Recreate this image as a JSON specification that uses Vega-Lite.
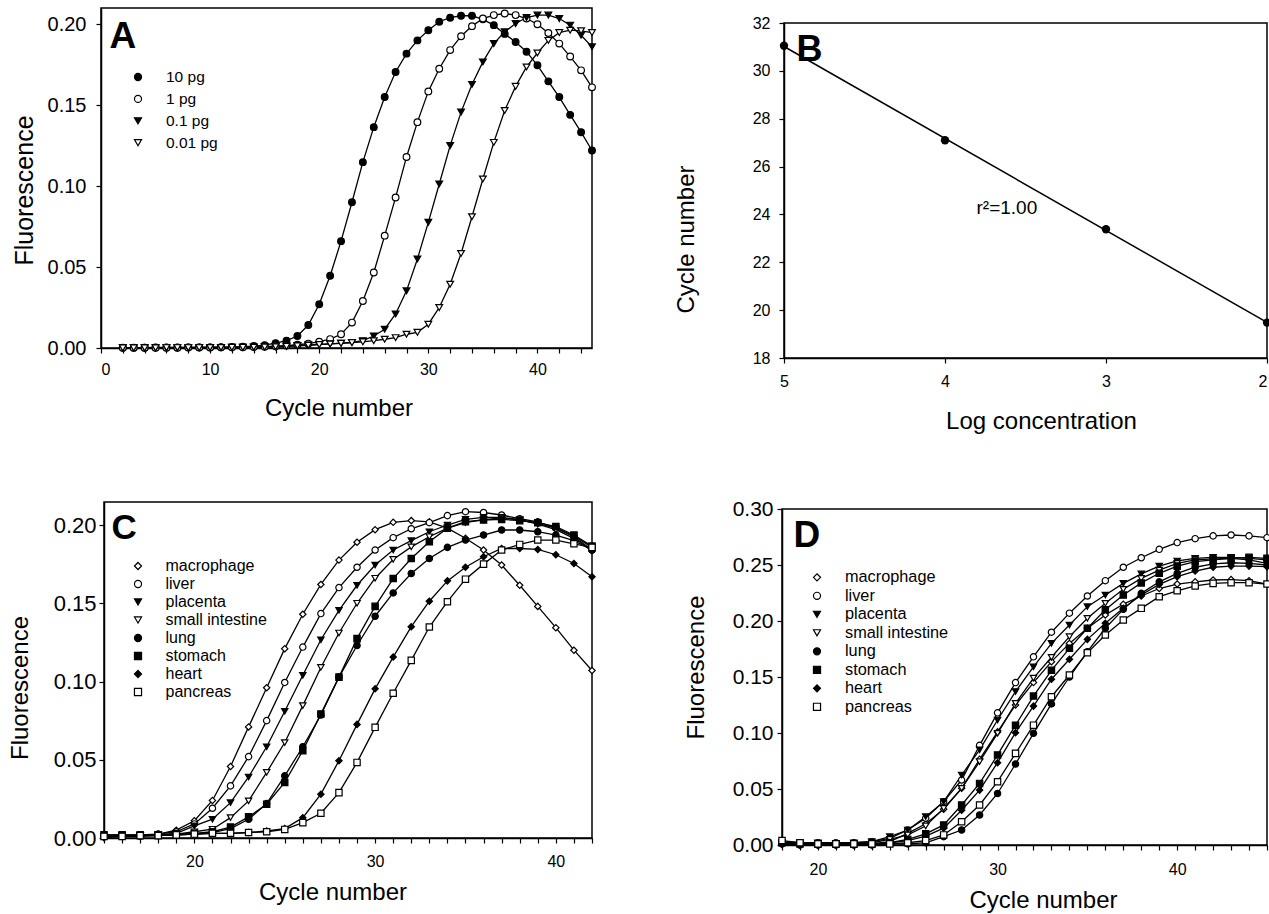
{
"$schema": "https://vega.github.io/schema/vega-lite/v6.json",
"background": "white",
"padding": {"left": 7, "top": 7, "right": 0, "bottom": 0},
"config": {
  "font": "Liberation Sans",
  "view": {"stroke": "black", "strokeWidth": 1.5},
  "axis": {"grid": false, "domainColor": "black", "domainWidth": 1.5, "tickColor": "black", "tickWidth": 1.2, "tickSize": 5, "labelColor": "black", "titleColor": "black", "titleFontWeight": "normal", "labelFont": "Liberation Sans", "titleFont": "Liberation Sans", "labelOverlap": false, "labelBound": false, "titleBaseline": "alphabetic", "titleAlign": "center"},
  "legend": {"labelFont": "Liberation Sans", "labelColor": "black", "padding": 0, "symbolStrokeWidth": 1.2, "symbolSize": 50, "symbolOpacity": 1}
},
"datasets": {
"A": [
{"c":2,"s":"10 pg","f":0.0002},{"c":3,"s":"10 pg","f":0.0002},{"c":4,"s":"10 pg","f":0.0002},{"c":5,"s":"10 pg","f":0.0003},{"c":6,"s":"10 pg","f":0.0003},{"c":7,"s":"10 pg","f":0.0003},{"c":8,"s":"10 pg","f":0.0004},{"c":9,"s":"10 pg","f":0.0004},{"c":10,"s":"10 pg","f":0.0004},{"c":11,"s":"10 pg","f":0.0005},{"c":12,"s":"10 pg","f":0.0006},{"c":13,"s":"10 pg","f":0.0008},{"c":14,"s":"10 pg","f":0.0012},{"c":15,"s":"10 pg","f":0.0018},{"c":16,"s":"10 pg","f":0.003},{"c":17,"s":"10 pg","f":0.0045},{"c":18,"s":"10 pg","f":0.0074},{"c":19,"s":"10 pg","f":0.0142},{"c":20,"s":"10 pg","f":0.027},{"c":21,"s":"10 pg","f":0.0446},{"c":22,"s":"10 pg","f":0.066},{"c":23,"s":"10 pg","f":0.09},{"c":24,"s":"10 pg","f":0.1148},{"c":25,"s":"10 pg","f":0.1364},{"c":26,"s":"10 pg","f":0.155},{"c":27,"s":"10 pg","f":0.1705},{"c":28,"s":"10 pg","f":0.1818},{"c":29,"s":"10 pg","f":0.19},{"c":30,"s":"10 pg","f":0.1963},{"c":31,"s":"10 pg","f":0.2015},{"c":32,"s":"10 pg","f":0.204},{"c":33,"s":"10 pg","f":0.2052},{"c":34,"s":"10 pg","f":0.2052},{"c":35,"s":"10 pg","f":0.203},{"c":36,"s":"10 pg","f":0.1994},{"c":37,"s":"10 pg","f":0.194},{"c":38,"s":"10 pg","f":0.189},{"c":39,"s":"10 pg","f":0.183},{"c":40,"s":"10 pg","f":0.1746},{"c":41,"s":"10 pg","f":0.1647},{"c":42,"s":"10 pg","f":0.155},{"c":43,"s":"10 pg","f":0.144},{"c":44,"s":"10 pg","f":0.1333},{"c":45,"s":"10 pg","f":0.122},
{"c":2,"s":"1 pg","f":0.0001},{"c":3,"s":"1 pg","f":0.0001},{"c":4,"s":"1 pg","f":0.0002},{"c":5,"s":"1 pg","f":0.0002},{"c":6,"s":"1 pg","f":0.0002},{"c":7,"s":"1 pg","f":0.0002},{"c":8,"s":"1 pg","f":0.0003},{"c":9,"s":"1 pg","f":0.0003},{"c":10,"s":"1 pg","f":0.0003},{"c":11,"s":"1 pg","f":0.0004},{"c":12,"s":"1 pg","f":0.0004},{"c":13,"s":"1 pg","f":0.0005},{"c":14,"s":"1 pg","f":0.0006},{"c":15,"s":"1 pg","f":0.0008},{"c":16,"s":"1 pg","f":0.0011},{"c":17,"s":"1 pg","f":0.0015},{"c":18,"s":"1 pg","f":0.002},{"c":19,"s":"1 pg","f":0.0027},{"c":20,"s":"1 pg","f":0.0039},{"c":21,"s":"1 pg","f":0.0055},{"c":22,"s":"1 pg","f":0.0085},{"c":23,"s":"1 pg","f":0.0157},{"c":24,"s":"1 pg","f":0.029},{"c":25,"s":"1 pg","f":0.0466},{"c":26,"s":"1 pg","f":0.0694},{"c":27,"s":"1 pg","f":0.093},{"c":28,"s":"1 pg","f":0.118},{"c":29,"s":"1 pg","f":0.1395},{"c":30,"s":"1 pg","f":0.1585},{"c":31,"s":"1 pg","f":0.1725},{"c":32,"s":"1 pg","f":0.184},{"c":33,"s":"1 pg","f":0.1926},{"c":34,"s":"1 pg","f":0.1988},{"c":35,"s":"1 pg","f":0.2035},{"c":36,"s":"1 pg","f":0.2056},{"c":37,"s":"1 pg","f":0.2066},{"c":38,"s":"1 pg","f":0.2056},{"c":39,"s":"1 pg","f":0.2035},{"c":40,"s":"1 pg","f":0.2},{"c":41,"s":"1 pg","f":0.1946},{"c":42,"s":"1 pg","f":0.188},{"c":43,"s":"1 pg","f":0.18},{"c":44,"s":"1 pg","f":0.1715},{"c":45,"s":"1 pg","f":0.161},
{"c":2,"s":"0.1 pg","f":0.0001},{"c":3,"s":"0.1 pg","f":0.0001},{"c":4,"s":"0.1 pg","f":0.0001},{"c":5,"s":"0.1 pg","f":0.0002},{"c":6,"s":"0.1 pg","f":0.0002},{"c":7,"s":"0.1 pg","f":0.0002},{"c":8,"s":"0.1 pg","f":0.0002},{"c":9,"s":"0.1 pg","f":0.0003},{"c":10,"s":"0.1 pg","f":0.0003},{"c":11,"s":"0.1 pg","f":0.0003},{"c":12,"s":"0.1 pg","f":0.0004},{"c":13,"s":"0.1 pg","f":0.0005},{"c":14,"s":"0.1 pg","f":0.0006},{"c":15,"s":"0.1 pg","f":0.0007},{"c":16,"s":"0.1 pg","f":0.0009},{"c":17,"s":"0.1 pg","f":0.0012},{"c":18,"s":"0.1 pg","f":0.0015},{"c":19,"s":"0.1 pg","f":0.0018},{"c":20,"s":"0.1 pg","f":0.0022},{"c":21,"s":"0.1 pg","f":0.0026},{"c":22,"s":"0.1 pg","f":0.003},{"c":23,"s":"0.1 pg","f":0.0034},{"c":24,"s":"0.1 pg","f":0.0045},{"c":25,"s":"0.1 pg","f":0.0074},{"c":26,"s":"0.1 pg","f":0.0116},{"c":27,"s":"0.1 pg","f":0.021},{"c":28,"s":"0.1 pg","f":0.0353},{"c":29,"s":"0.1 pg","f":0.055},{"c":30,"s":"0.1 pg","f":0.0776},{"c":31,"s":"0.1 pg","f":0.1013},{"c":32,"s":"0.1 pg","f":0.125},{"c":33,"s":"0.1 pg","f":0.1457},{"c":34,"s":"0.1 pg","f":0.1628},{"c":35,"s":"0.1 pg","f":0.1767},{"c":36,"s":"0.1 pg","f":0.188},{"c":37,"s":"0.1 pg","f":0.1953},{"c":38,"s":"0.1 pg","f":0.2004},{"c":39,"s":"0.1 pg","f":0.2041},{"c":40,"s":"0.1 pg","f":0.2056},{"c":41,"s":"0.1 pg","f":0.2056},{"c":42,"s":"0.1 pg","f":0.2035},{"c":43,"s":"0.1 pg","f":0.1994},{"c":44,"s":"0.1 pg","f":0.1932},{"c":45,"s":"0.1 pg","f":0.186},
{"c":2,"s":"0.01 pg","f":0.0001},{"c":3,"s":"0.01 pg","f":0.0001},{"c":4,"s":"0.01 pg","f":0.0001},{"c":5,"s":"0.01 pg","f":0.0001},{"c":6,"s":"0.01 pg","f":0.0002},{"c":7,"s":"0.01 pg","f":0.0002},{"c":8,"s":"0.01 pg","f":0.0002},{"c":9,"s":"0.01 pg","f":0.0002},{"c":10,"s":"0.01 pg","f":0.0003},{"c":11,"s":"0.01 pg","f":0.0003},{"c":12,"s":"0.01 pg","f":0.0004},{"c":13,"s":"0.01 pg","f":0.0004},{"c":14,"s":"0.01 pg","f":0.0005},{"c":15,"s":"0.01 pg","f":0.0006},{"c":16,"s":"0.01 pg","f":0.0008},{"c":17,"s":"0.01 pg","f":0.001},{"c":18,"s":"0.01 pg","f":0.0013},{"c":19,"s":"0.01 pg","f":0.0017},{"c":20,"s":"0.01 pg","f":0.0021},{"c":21,"s":"0.01 pg","f":0.0025},{"c":22,"s":"0.01 pg","f":0.0029},{"c":23,"s":"0.01 pg","f":0.0033},{"c":24,"s":"0.01 pg","f":0.0038},{"c":25,"s":"0.01 pg","f":0.0045},{"c":26,"s":"0.01 pg","f":0.0054},{"c":27,"s":"0.01 pg","f":0.0064},{"c":28,"s":"0.01 pg","f":0.0085},{"c":29,"s":"0.01 pg","f":0.0097},{"c":30,"s":"0.01 pg","f":0.0147},{"c":31,"s":"0.01 pg","f":0.025},{"c":32,"s":"0.01 pg","f":0.0394},{"c":33,"s":"0.01 pg","f":0.0584},{"c":34,"s":"0.01 pg","f":0.0811},{"c":35,"s":"0.01 pg","f":0.1044},{"c":36,"s":"0.01 pg","f":0.127},{"c":37,"s":"0.01 pg","f":0.1467},{"c":38,"s":"0.01 pg","f":0.1616},{"c":39,"s":"0.01 pg","f":0.1736},{"c":40,"s":"0.01 pg","f":0.1822},{"c":41,"s":"0.01 pg","f":0.19},{"c":42,"s":"0.01 pg","f":0.1948},{"c":43,"s":"0.01 pg","f":0.1963},{"c":44,"s":"0.01 pg","f":0.1959},{"c":45,"s":"0.01 pg","f":0.1948}
],
"B": [
{"logc":5,"cyc":31.05},{"logc":4,"cyc":27.1},{"logc":3,"cyc":23.38},{"logc":2,"cyc":19.48}
],
"C": [
{"c":15,"s":"macrophage","f":0.0002},{"c":16,"s":"macrophage","f":0.001},{"c":17,"s":"macrophage","f":0.0013},{"c":18,"s":"macrophage","f":0.0024},{"c":19,"s":"macrophage","f":0.005},{"c":20,"s":"macrophage","f":0.011},{"c":21,"s":"macrophage","f":0.024},{"c":22,"s":"macrophage","f":0.0457},{"c":23,"s":"macrophage","f":0.071},{"c":24,"s":"macrophage","f":0.096},{"c":25,"s":"macrophage","f":0.121},{"c":26,"s":"macrophage","f":0.143},{"c":27,"s":"macrophage","f":0.162},{"c":28,"s":"macrophage","f":0.1776},{"c":29,"s":"macrophage","f":0.189},{"c":30,"s":"macrophage","f":0.197},{"c":31,"s":"macrophage","f":0.2017},{"c":32,"s":"macrophage","f":0.2028},{"c":33,"s":"macrophage","f":0.202},{"c":34,"s":"macrophage","f":0.198},{"c":35,"s":"macrophage","f":0.1915},{"c":36,"s":"macrophage","f":0.184},{"c":37,"s":"macrophage","f":0.1744},{"c":38,"s":"macrophage","f":0.1615},{"c":39,"s":"macrophage","f":0.148},{"c":40,"s":"macrophage","f":0.1344},{"c":41,"s":"macrophage","f":0.12},{"c":42,"s":"macrophage","f":0.107},
{"c":15,"s":"liver","f":0.002},{"c":16,"s":"liver","f":0.002},{"c":17,"s":"liver","f":0.002},{"c":18,"s":"liver","f":0.0025},{"c":19,"s":"liver","f":0.004},{"c":20,"s":"liver","f":0.009},{"c":21,"s":"liver","f":0.019},{"c":22,"s":"liver","f":0.0333},{"c":23,"s":"liver","f":0.052},{"c":24,"s":"liver","f":0.075},{"c":25,"s":"liver","f":0.0994},{"c":26,"s":"liver","f":0.122},{"c":27,"s":"liver","f":0.1434},{"c":28,"s":"liver","f":0.16},{"c":29,"s":"liver","f":0.173},{"c":30,"s":"liver","f":0.184},{"c":31,"s":"liver","f":0.1919},{"c":32,"s":"liver","f":0.1976},{"c":33,"s":"liver","f":0.2015},{"c":34,"s":"liver","f":0.206},{"c":35,"s":"liver","f":0.2085},{"c":36,"s":"liver","f":0.208},{"c":37,"s":"liver","f":0.2064},{"c":38,"s":"liver","f":0.204},{"c":39,"s":"liver","f":0.202},{"c":40,"s":"liver","f":0.198},{"c":41,"s":"liver","f":0.1925},{"c":42,"s":"liver","f":0.184},
{"c":15,"s":"placenta","f":0.001},{"c":16,"s":"placenta","f":0.0015},{"c":17,"s":"placenta","f":0.0015},{"c":18,"s":"placenta","f":0.002},{"c":19,"s":"placenta","f":0.003},{"c":20,"s":"placenta","f":0.0077},{"c":21,"s":"placenta","f":0.012},{"c":22,"s":"placenta","f":0.0226},{"c":23,"s":"placenta","f":0.039},{"c":24,"s":"placenta","f":0.0583},{"c":25,"s":"placenta","f":0.081},{"c":26,"s":"placenta","f":0.104},{"c":27,"s":"placenta","f":0.1267},{"c":28,"s":"placenta","f":0.1455},{"c":29,"s":"placenta","f":0.1615},{"c":30,"s":"placenta","f":0.1744},{"c":31,"s":"placenta","f":0.184},{"c":32,"s":"placenta","f":0.19},{"c":33,"s":"placenta","f":0.1957},{"c":34,"s":"placenta","f":0.2},{"c":35,"s":"placenta","f":0.2036},{"c":36,"s":"placenta","f":0.2049},{"c":37,"s":"placenta","f":0.2049},{"c":38,"s":"placenta","f":0.2032},{"c":39,"s":"placenta","f":0.201},{"c":40,"s":"placenta","f":0.198},{"c":41,"s":"placenta","f":0.193},{"c":42,"s":"placenta","f":0.1857},
{"c":15,"s":"small intestine","f":0.001},{"c":16,"s":"small intestine","f":0.001},{"c":17,"s":"small intestine","f":0.0015},{"c":18,"s":"small intestine","f":0.002},{"c":19,"s":"small intestine","f":0.0025},{"c":20,"s":"small intestine","f":0.004},{"c":21,"s":"small intestine","f":0.0056},{"c":22,"s":"small intestine","f":0.013},{"c":23,"s":"small intestine","f":0.0237},{"c":24,"s":"small intestine","f":0.0419},{"c":25,"s":"small intestine","f":0.061},{"c":26,"s":"small intestine","f":0.0846},{"c":27,"s":"small intestine","f":0.109},{"c":28,"s":"small intestine","f":0.131},{"c":29,"s":"small intestine","f":0.15},{"c":30,"s":"small intestine","f":0.166},{"c":31,"s":"small intestine","f":0.178},{"c":32,"s":"small intestine","f":0.186},{"c":33,"s":"small intestine","f":0.1925},{"c":34,"s":"small intestine","f":0.198},{"c":35,"s":"small intestine","f":0.2015},{"c":36,"s":"small intestine","f":0.2035},{"c":37,"s":"small intestine","f":0.2045},{"c":38,"s":"small intestine","f":0.2035},{"c":39,"s":"small intestine","f":0.2005},{"c":40,"s":"small intestine","f":0.197},{"c":41,"s":"small intestine","f":0.1915},{"c":42,"s":"small intestine","f":0.1835},
{"c":15,"s":"lung","f":0.001},{"c":16,"s":"lung","f":0.001},{"c":17,"s":"lung","f":0.001},{"c":18,"s":"lung","f":0.0015},{"c":19,"s":"lung","f":0.002},{"c":20,"s":"lung","f":0.0025},{"c":21,"s":"lung","f":0.0035},{"c":22,"s":"lung","f":0.006},{"c":23,"s":"lung","f":0.012},{"c":24,"s":"lung","f":0.022},{"c":25,"s":"lung","f":0.0397},{"c":26,"s":"lung","f":0.0583},{"c":27,"s":"lung","f":0.0786},{"c":28,"s":"lung","f":0.1028},{"c":29,"s":"lung","f":0.123},{"c":30,"s":"lung","f":0.1417},{"c":31,"s":"lung","f":0.1566},{"c":32,"s":"lung","f":0.169},{"c":33,"s":"lung","f":0.1786},{"c":34,"s":"lung","f":0.1857},{"c":35,"s":"lung","f":0.1904},{"c":36,"s":"lung","f":0.1936},{"c":37,"s":"lung","f":0.1968},{"c":38,"s":"lung","f":0.1968},{"c":39,"s":"lung","f":0.1957},{"c":40,"s":"lung","f":0.1936},{"c":41,"s":"lung","f":0.19},{"c":42,"s":"lung","f":0.184},
{"c":15,"s":"stomach","f":0.002},{"c":16,"s":"stomach","f":0.002},{"c":17,"s":"stomach","f":0.002},{"c":18,"s":"stomach","f":0.002},{"c":19,"s":"stomach","f":0.0025},{"c":20,"s":"stomach","f":0.003},{"c":21,"s":"stomach","f":0.004},{"c":22,"s":"stomach","f":0.007},{"c":23,"s":"stomach","f":0.0135},{"c":24,"s":"stomach","f":0.0216},{"c":25,"s":"stomach","f":0.0355},{"c":26,"s":"stomach","f":0.0558},{"c":27,"s":"stomach","f":0.0793},{"c":28,"s":"stomach","f":0.1028},{"c":29,"s":"stomach","f":0.1274},{"c":30,"s":"stomach","f":0.148},{"c":31,"s":"stomach","f":0.1658},{"c":32,"s":"stomach","f":0.1786},{"c":33,"s":"stomach","f":0.1893},{"c":34,"s":"stomach","f":0.198},{"c":35,"s":"stomach","f":0.2021},{"c":36,"s":"stomach","f":0.2032},{"c":37,"s":"stomach","f":0.2036},{"c":38,"s":"stomach","f":0.2028},{"c":39,"s":"stomach","f":0.2015},{"c":40,"s":"stomach","f":0.199},{"c":41,"s":"stomach","f":0.1936},{"c":42,"s":"stomach","f":0.1865},
{"c":15,"s":"heart","f":0.001},{"c":16,"s":"heart","f":0.0015},{"c":17,"s":"heart","f":0.0015},{"c":18,"s":"heart","f":0.002},{"c":19,"s":"heart","f":0.002},{"c":20,"s":"heart","f":0.0025},{"c":21,"s":"heart","f":0.003},{"c":22,"s":"heart","f":0.003},{"c":23,"s":"heart","f":0.0035},{"c":24,"s":"heart","f":0.0045},{"c":25,"s":"heart","f":0.006},{"c":26,"s":"heart","f":0.013},{"c":27,"s":"heart","f":0.028},{"c":28,"s":"heart","f":0.0494},{"c":29,"s":"heart","f":0.0726},{"c":30,"s":"heart","f":0.0953},{"c":31,"s":"heart","f":0.1156},{"c":32,"s":"heart","f":0.135},{"c":33,"s":"heart","f":0.1513},{"c":34,"s":"heart","f":0.1643},{"c":35,"s":"heart","f":0.173},{"c":36,"s":"heart","f":0.1797},{"c":37,"s":"heart","f":0.185},{"c":38,"s":"heart","f":0.185},{"c":39,"s":"heart","f":0.1844},{"c":40,"s":"heart","f":0.181},{"c":41,"s":"heart","f":0.1754},{"c":42,"s":"heart","f":0.1669},
{"c":15,"s":"pancreas","f":0.001},{"c":16,"s":"pancreas","f":0.001},{"c":17,"s":"pancreas","f":0.0015},{"c":18,"s":"pancreas","f":0.0015},{"c":19,"s":"pancreas","f":0.002},{"c":20,"s":"pancreas","f":0.0025},{"c":21,"s":"pancreas","f":0.003},{"c":22,"s":"pancreas","f":0.003},{"c":23,"s":"pancreas","f":0.0035},{"c":24,"s":"pancreas","f":0.004},{"c":25,"s":"pancreas","f":0.0055},{"c":26,"s":"pancreas","f":0.0098},{"c":27,"s":"pancreas","f":0.0158},{"c":28,"s":"pancreas","f":0.029},{"c":29,"s":"pancreas","f":0.0483},{"c":30,"s":"pancreas","f":0.0707},{"c":31,"s":"pancreas","f":0.0925},{"c":32,"s":"pancreas","f":0.1135},{"c":33,"s":"pancreas","f":0.1348},{"c":34,"s":"pancreas","f":0.151},{"c":35,"s":"pancreas","f":0.1654},{"c":36,"s":"pancreas","f":0.175},{"c":37,"s":"pancreas","f":0.184},{"c":38,"s":"pancreas","f":0.1876},{"c":39,"s":"pancreas","f":0.1904},{"c":40,"s":"pancreas","f":0.1904},{"c":41,"s":"pancreas","f":0.188},{"c":42,"s":"pancreas","f":0.1857}
],
"D": [
{"c":18,"s":"macrophage","f":0.0005},{"c":19,"s":"macrophage","f":0},{"c":20,"s":"macrophage","f":0},{"c":21,"s":"macrophage","f":0},{"c":22,"s":"macrophage","f":0.0003},{"c":23,"s":"macrophage","f":0.001},{"c":24,"s":"macrophage","f":0.003},{"c":25,"s":"macrophage","f":0.0104},{"c":26,"s":"macrophage","f":0.019},{"c":27,"s":"macrophage","f":0.032},{"c":28,"s":"macrophage","f":0.0506},{"c":29,"s":"macrophage","f":0.0765},{"c":30,"s":"macrophage","f":0.101},{"c":31,"s":"macrophage","f":0.125},{"c":32,"s":"macrophage","f":0.145},{"c":33,"s":"macrophage","f":0.1637},{"c":34,"s":"macrophage","f":0.18},{"c":35,"s":"macrophage","f":0.1935},{"c":36,"s":"macrophage","f":0.2054},{"c":37,"s":"macrophage","f":0.215},{"c":38,"s":"macrophage","f":0.2223},{"c":39,"s":"macrophage","f":0.229},{"c":40,"s":"macrophage","f":0.233},{"c":41,"s":"macrophage","f":0.235},{"c":42,"s":"macrophage","f":0.2366},{"c":43,"s":"macrophage","f":0.237},{"c":44,"s":"macrophage","f":0.236},{"c":45,"s":"macrophage","f":0.233},
{"c":18,"s":"liver","f":0.003},{"c":19,"s":"liver","f":0.002},{"c":20,"s":"liver","f":0.002},{"c":21,"s":"liver","f":0.002},{"c":22,"s":"liver","f":0.002},{"c":23,"s":"liver","f":0.003},{"c":24,"s":"liver","f":0.006},{"c":25,"s":"liver","f":0.0134},{"c":26,"s":"liver","f":0.024},{"c":27,"s":"liver","f":0.0387},{"c":28,"s":"liver","f":0.058},{"c":29,"s":"liver","f":0.089},{"c":30,"s":"liver","f":0.118},{"c":31,"s":"liver","f":0.145},{"c":32,"s":"liver","f":0.168},{"c":33,"s":"liver","f":0.19},{"c":34,"s":"liver","f":0.207},{"c":35,"s":"liver","f":0.2223},{"c":36,"s":"liver","f":0.236},{"c":37,"s":"liver","f":0.248},{"c":38,"s":"liver","f":0.2565},{"c":39,"s":"liver","f":0.264},{"c":40,"s":"liver","f":0.27},{"c":41,"s":"liver","f":0.2735},{"c":42,"s":"liver","f":0.276},{"c":43,"s":"liver","f":0.2768},{"c":44,"s":"liver","f":0.276},{"c":45,"s":"liver","f":0.2744},
{"c":18,"s":"placenta","f":0.002},{"c":19,"s":"placenta","f":0.002},{"c":20,"s":"placenta","f":0.002},{"c":21,"s":"placenta","f":0.001},{"c":22,"s":"placenta","f":0.002},{"c":23,"s":"placenta","f":0.003},{"c":24,"s":"placenta","f":0.0074},{"c":25,"s":"placenta","f":0.0134},{"c":26,"s":"placenta","f":0.0253},{"c":27,"s":"placenta","f":0.0387},{"c":28,"s":"placenta","f":0.0625},{"c":29,"s":"placenta","f":0.085},{"c":30,"s":"placenta","f":0.1116},{"c":31,"s":"placenta","f":0.137},{"c":32,"s":"placenta","f":0.159},{"c":33,"s":"placenta","f":0.18},{"c":34,"s":"placenta","f":0.1964},{"c":35,"s":"placenta","f":0.2128},{"c":36,"s":"placenta","f":0.2232},{"c":37,"s":"placenta","f":0.2336},{"c":38,"s":"placenta","f":0.242},{"c":39,"s":"placenta","f":0.249},{"c":40,"s":"placenta","f":0.2536},{"c":41,"s":"placenta","f":0.256},{"c":42,"s":"placenta","f":0.2568},{"c":43,"s":"placenta","f":0.2568},{"c":44,"s":"placenta","f":0.256},{"c":45,"s":"placenta","f":0.2545},
{"c":18,"s":"small intestine","f":0.001},{"c":19,"s":"small intestine","f":0.001},{"c":20,"s":"small intestine","f":0.001},{"c":21,"s":"small intestine","f":0.001},{"c":22,"s":"small intestine","f":0.001},{"c":23,"s":"small intestine","f":0.002},{"c":24,"s":"small intestine","f":0.005},{"c":25,"s":"small intestine","f":0.009},{"c":26,"s":"small intestine","f":0.017},{"c":27,"s":"small intestine","f":0.0327},{"c":28,"s":"small intestine","f":0.0506},{"c":29,"s":"small intestine","f":0.0744},{"c":30,"s":"small intestine","f":0.0997},{"c":31,"s":"small intestine","f":0.1265},{"c":32,"s":"small intestine","f":0.149},{"c":33,"s":"small intestine","f":0.1676},{"c":34,"s":"small intestine","f":0.186},{"c":35,"s":"small intestine","f":0.2024},{"c":36,"s":"small intestine","f":0.2158},{"c":37,"s":"small intestine","f":0.2283},{"c":38,"s":"small intestine","f":0.238},{"c":39,"s":"small intestine","f":0.2455},{"c":40,"s":"small intestine","f":0.2515},{"c":41,"s":"small intestine","f":0.2545},{"c":42,"s":"small intestine","f":0.2554},{"c":43,"s":"small intestine","f":0.256},{"c":44,"s":"small intestine","f":0.2545},{"c":45,"s":"small intestine","f":0.2515},
{"c":18,"s":"lung","f":0.001},{"c":19,"s":"lung","f":0},{"c":20,"s":"lung","f":0},{"c":21,"s":"lung","f":0},{"c":22,"s":"lung","f":0},{"c":23,"s":"lung","f":0},{"c":24,"s":"lung","f":0.001},{"c":25,"s":"lung","f":0.001},{"c":26,"s":"lung","f":0.002},{"c":27,"s":"lung","f":0.0074},{"c":28,"s":"lung","f":0.0134},{"c":29,"s":"lung","f":0.0268},{"c":30,"s":"lung","f":0.046},{"c":31,"s":"lung","f":0.0723},{"c":32,"s":"lung","f":0.0997},{"c":33,"s":"lung","f":0.126},{"c":34,"s":"lung","f":0.15},{"c":35,"s":"lung","f":0.1726},{"c":36,"s":"lung","f":0.1935},{"c":37,"s":"lung","f":0.2104},{"c":38,"s":"lung","f":0.2247},{"c":39,"s":"lung","f":0.235},{"c":40,"s":"lung","f":0.2426},{"c":41,"s":"lung","f":0.248},{"c":42,"s":"lung","f":0.251},{"c":43,"s":"lung","f":0.252},{"c":44,"s":"lung","f":0.2515},{"c":45,"s":"lung","f":0.25},
{"c":18,"s":"stomach","f":0.002},{"c":19,"s":"stomach","f":0.001},{"c":20,"s":"stomach","f":0.001},{"c":21,"s":"stomach","f":0.001},{"c":22,"s":"stomach","f":0.001},{"c":23,"s":"stomach","f":0.001},{"c":24,"s":"stomach","f":0.002},{"c":25,"s":"stomach","f":0.005},{"c":26,"s":"stomach","f":0.01},{"c":27,"s":"stomach","f":0.0179},{"c":28,"s":"stomach","f":0.0357},{"c":29,"s":"stomach","f":0.055},{"c":30,"s":"stomach","f":0.0804},{"c":31,"s":"stomach","f":0.107},{"c":32,"s":"stomach","f":0.133},{"c":33,"s":"stomach","f":0.156},{"c":34,"s":"stomach","f":0.1756},{"c":35,"s":"stomach","f":0.1935},{"c":36,"s":"stomach","f":0.21},{"c":37,"s":"stomach","f":0.2232},{"c":38,"s":"stomach","f":0.234},{"c":39,"s":"stomach","f":0.2426},{"c":40,"s":"stomach","f":0.249},{"c":41,"s":"stomach","f":0.253},{"c":42,"s":"stomach","f":0.2545},{"c":43,"s":"stomach","f":0.256},{"c":44,"s":"stomach","f":0.2568},{"c":45,"s":"stomach","f":0.256},
{"c":18,"s":"heart","f":0.001},{"c":19,"s":"heart","f":0.001},{"c":20,"s":"heart","f":0.001},{"c":21,"s":"heart","f":0.001},{"c":22,"s":"heart","f":0.001},{"c":23,"s":"heart","f":0.001},{"c":24,"s":"heart","f":0.002},{"c":25,"s":"heart","f":0.004},{"c":26,"s":"heart","f":0.008},{"c":27,"s":"heart","f":0.015},{"c":28,"s":"heart","f":0.031},{"c":29,"s":"heart","f":0.049},{"c":30,"s":"heart","f":0.0735},{"c":31,"s":"heart","f":0.1003},{"c":32,"s":"heart","f":0.124},{"c":33,"s":"heart","f":0.148},{"c":34,"s":"heart","f":0.1658},{"c":35,"s":"heart","f":0.1836},{"c":36,"s":"heart","f":0.198},{"c":37,"s":"heart","f":0.2113},{"c":38,"s":"heart","f":0.2232},{"c":39,"s":"heart","f":0.2327},{"c":40,"s":"heart","f":0.2396},{"c":41,"s":"heart","f":0.2446},{"c":42,"s":"heart","f":0.248},{"c":43,"s":"heart","f":0.249},{"c":44,"s":"heart","f":0.249},{"c":45,"s":"heart","f":0.2485},
{"c":18,"s":"pancreas","f":0.004},{"c":19,"s":"pancreas","f":0.002},{"c":20,"s":"pancreas","f":0.001},{"c":21,"s":"pancreas","f":0.001},{"c":22,"s":"pancreas","f":0.001},{"c":23,"s":"pancreas","f":0.001},{"c":24,"s":"pancreas","f":0.001},{"c":25,"s":"pancreas","f":0.002},{"c":26,"s":"pancreas","f":0.004},{"c":27,"s":"pancreas","f":0.009},{"c":28,"s":"pancreas","f":0.0208},{"c":29,"s":"pancreas","f":0.0357},{"c":30,"s":"pancreas","f":0.0565},{"c":31,"s":"pancreas","f":0.0818},{"c":32,"s":"pancreas","f":0.107},{"c":33,"s":"pancreas","f":0.1324},{"c":34,"s":"pancreas","f":0.1518},{"c":35,"s":"pancreas","f":0.1717},{"c":36,"s":"pancreas","f":0.1875},{"c":37,"s":"pancreas","f":0.2009},{"c":38,"s":"pancreas","f":0.2113},{"c":39,"s":"pancreas","f":0.2217},{"c":40,"s":"pancreas","f":0.227},{"c":41,"s":"pancreas","f":0.2313},{"c":42,"s":"pancreas","f":0.2336},{"c":43,"s":"pancreas","f":0.2342},{"c":44,"s":"pancreas","f":0.2342},{"c":45,"s":"pancreas","f":0.233}
]
},
"resolve": {"scale": {"shape": "independent", "fill": "independent", "stroke": "independent"}, "legend": {"shape": "independent", "fill": "independent", "stroke": "independent"}},
"spacing": 494,
"bounds": "flush",
"vconcat": [
{
 "hconcat": [
  {
   "width": 491, "height": 340,
   "data": {"name": "A"},
   "resolve": {"scale": {"x": "independent"}},
   "encoding": {
     "x": {"field": "c", "type": "quantitative", "scale": {"domain": [0, 45], "nice": false, "zero": false},
       "axis": {"title": "Cycle number", "values": [0,2,4,6,8,10,12,14,16,18,20,22,24,26,28,30,32,34,36,38,40,42,44], "labelExpr": "datum.value % 10 == 0 ? datum.label : ''", "format": "d", "labelFontSize": 16, "labelPadding": 8, "titleFontSize": 24, "titleX": 237.5, "titleY": 67}},
     "y": {"field": "f", "type": "quantitative", "scale": {"domain": [0, 0.21], "nice": false},
       "axis": {"title": "Fluorescence", "values": [0, 0.05, 0.1, 0.15, 0.2], "format": ".2f", "labelFontSize": 20, "labelPadding": 10, "titleFontSize": 25, "titleX": -69, "titleY": 182}}
   },
   "layer": [
     {"mark": {"type": "line", "stroke": "black", "strokeWidth": 1.3}, "encoding": {"detail": {"field": "s", "type": "nominal"}}},
     {"mark": {"type": "point", "filled": true, "size": 45, "strokeWidth": 1.2, "opacity": 1},
      "encoding": {
        "x": {"field": "c", "type": "quantitative", "scale": {"domain": [0, 45], "nice": false, "zero": false},
          "axis": {"orient": "top", "title": "A", "labels": false, "ticks": false, "domain": false, "titleX": 8, "titleY": 39, "titleAlign": "left", "titleAngle": 0, "titleBaseline": "alphabetic", "titleFontSize": 37, "titleFontWeight": "bold"}},
        "shape": {"field": "s", "type": "nominal", "scale": {"domain": ["10 pg", "1 pg", "0.1 pg", "0.01 pg"], "range": ["circle", "circle", "triangle-down", "triangle-down"]},
          "legend": {"orient": "none", "legendX": 29.25, "legendY": 61.25, "title": null, "labelFontSize": 15.5, "labelOffset": 20.25, "rowPadding": 4.9}},
        "fill": {"field": "s", "type": "nominal", "scale": {"domain": ["10 pg", "1 pg", "0.1 pg", "0.01 pg"], "range": ["black", "white", "black", "white"]},
          "legend": {"orient": "none", "legendX": 29.25, "legendY": 61.25, "title": null, "labelFontSize": 15.5, "labelOffset": 20.25, "rowPadding": 4.9}},
        "stroke": {"field": "s", "type": "nominal", "scale": {"domain": ["10 pg", "1 pg", "0.1 pg", "0.01 pg"], "range": ["black", "black", "black", "black"]},
          "legend": {"orient": "none", "legendX": 29.25, "legendY": 61.25, "title": null, "labelFontSize": 15.5, "labelOffset": 20.25, "rowPadding": 4.9}}
      }}
   ]
  },
  {
   "vconcat": [
     {"width": 1, "height": 15, "data": {"values": []}, "mark": "point", "view": {"stroke": null}},
     {
      "width": 483, "height": 335,
      "data": {"name": "B"},
      "resolve": {"scale": {"x": "independent", "y": "independent"}},
      "encoding": {
        "x": {"field": "logc", "type": "quantitative", "scale": {"domain": [2, 5], "reverse": true, "nice": false, "zero": false},
          "axis": {"title": "Log concentration", "values": [2, 3, 4, 5], "format": "d", "labelFontSize": 16, "labelPadding": 10, "labelAlign": {"condition": {"test": "datum.value == 2", "value": "right"}, "value": "center"}, "titleFontSize": 24, "titleX": 257, "titleY": 70}},
        "y": {"field": "cyc", "type": "quantitative", "scale": {"domain": [18, 32], "nice": false, "zero": false},
          "axis": {"title": "Cycle number", "values": [18, 20, 22, 24, 26, 28, 30, 32], "format": "d", "labelFontSize": 16, "labelPadding": 9, "titleFontSize": 24, "titleX": -91, "titleY": 216}}
      },
      "layer": [
        {"transform": [{"regression": "cyc", "on": "logc"}], "mark": {"type": "line", "stroke": "black", "strokeWidth": 1.5}},
        {"mark": {"type": "point", "filled": true, "fill": "black", "size": 70, "opacity": 1},
         "encoding": {
           "x": {"field": "logc", "type": "quantitative", "scale": {"domain": [2, 5], "reverse": true, "nice": false, "zero": false},
             "axis": {"orient": "top", "title": "B", "labels": false, "ticks": false, "domain": false, "titleX": 12, "titleY": 37, "titleAlign": "left", "titleAngle": 0, "titleBaseline": "alphabetic", "titleFontSize": 36, "titleFontWeight": "bold"}},
           "y": {"field": "cyc", "type": "quantitative", "scale": {"domain": [18, 32], "nice": false, "zero": false},
             "axis": {"orient": "right", "title": "r²=1.00", "labels": false, "ticks": false, "domain": false, "titleX": -291, "titleY": 190, "titleAlign": "left", "titleAngle": 0, "titleBaseline": "alphabetic", "titleFontSize": 19, "titleFontWeight": "normal"}}
         }}
      ]
     }
   ],
   "spacing": 0, "bounds": "flush",
   "resolve": {"scale": {"shape": "independent", "fill": "independent", "stroke": "independent"}, "legend": {"shape": "independent", "fill": "independent", "stroke": "independent"}}
  }
 ],
 "spacing": 192, "bounds": "flush",
 "resolve": {"scale": {"shape": "independent", "fill": "independent", "stroke": "independent"}, "legend": {"shape": "independent", "fill": "independent", "stroke": "independent"}}
},
{
 "hconcat": [
  {
   "hconcat": [
     {"width": 3, "height": 1, "data": {"values": []}, "mark": "point", "view": {"stroke": null}},
     {
      "width": 488, "height": 336,
      "data": {"name": "C"},
      "resolve": {"scale": {"x": "independent"}},
      "encoding": {
        "x": {"field": "c", "type": "quantitative", "scale": {"domain": [15, 42], "nice": false, "zero": false},
          "axis": {"title": "Cycle number", "values": [15,16,17,18,19,20,21,22,23,24,25,26,27,28,29,30,31,32,33,34,35,36,37,38,39,40,41,42], "labelExpr": "datum.value % 10 == 0 ? datum.label : ''", "format": "d", "labelFontSize": 16, "labelPadding": 10, "titleFontSize": 24, "titleX": 228.5, "titleY": 61}},
        "y": {"field": "f", "type": "quantitative", "scale": {"domain": [0, 0.2147], "nice": false},
          "axis": {"title": "Fluorescence", "values": [0, 0.05, 0.1, 0.15, 0.2], "format": ".2f", "labelFontSize": 22, "labelPadding": 3, "titleFontSize": 24, "titleX": -76.5, "titleY": 185.5}}
      },
      "layer": [
        {"mark": {"type": "line", "stroke": "black", "strokeWidth": 1.3}, "encoding": {"detail": {"field": "s", "type": "nominal"}}},
        {"mark": {"type": "point", "filled": true, "size": 40, "strokeWidth": 1.2, "opacity": 1},
         "encoding": {
           "x": {"field": "c", "type": "quantitative", "scale": {"domain": [15, 42], "nice": false, "zero": false},
             "axis": {"orient": "top", "title": "C", "labels": false, "ticks": false, "domain": false, "titleX": 7, "titleY": 36, "titleAlign": "left", "titleAngle": 0, "titleBaseline": "alphabetic", "titleFontSize": 35, "titleFontWeight": "bold"}},
           "shape": {"field": "s", "type": "nominal", "scale": {"domain": ["macrophage", "liver", "placenta", "small intestine", "lung", "stomach", "heart", "pancreas"], "range": ["diamond", "circle", "triangle-down", "triangle-down", "circle", "square", "diamond", "square"]},
             "legend": {"orient": "none", "legendX": 26, "legendY": 56, "title": null, "labelFontSize": 16, "labelOffset": 19.5, "rowPadding": 2}},
           "fill": {"field": "s", "type": "nominal", "scale": {"domain": ["macrophage", "liver", "placenta", "small intestine", "lung", "stomach", "heart", "pancreas"], "range": ["white", "white", "black", "white", "black", "black", "black", "white"]},
             "legend": {"orient": "none", "legendX": 26, "legendY": 56, "title": null, "labelFontSize": 16, "labelOffset": 19.5, "rowPadding": 2}},
           "stroke": {"field": "s", "type": "nominal", "scale": {"domain": ["macrophage", "liver", "placenta", "small intestine", "lung", "stomach", "heart", "pancreas"], "range": ["black", "black", "black", "black", "black", "black", "black", "black"]},
             "legend": {"orient": "none", "legendX": 26, "legendY": 56, "title": null, "labelFontSize": 16, "labelOffset": 19.5, "rowPadding": 2}}
         }}
      ]
     }
   ],
   "spacing": 0, "bounds": "flush",
   "resolve": {"scale": {"shape": "independent", "fill": "independent", "stroke": "independent"}, "legend": {"shape": "independent", "fill": "independent", "stroke": "independent"}}
  },
  {
   "vconcat": [
     {"width": 1, "height": 7, "data": {"values": []}, "mark": "point", "view": {"stroke": null}},
     {
      "width": 485, "height": 336,
      "data": {"name": "D"},
      "resolve": {"scale": {"x": "independent"}},
      "encoding": {
        "x": {"field": "c", "type": "quantitative", "scale": {"domain": [18, 45], "nice": false, "zero": false},
          "axis": {"title": "Cycle number", "values": [18,19,20,21,22,23,24,25,26,27,28,29,30,31,32,33,34,35,36,37,38,39,40,41,42,43,44,45], "labelExpr": "datum.value % 10 == 0 ? datum.label : ''", "format": "d", "labelFontSize": 16, "labelPadding": 11, "titleFontSize": 24, "titleX": 261, "titleY": 62}},
        "y": {"field": "f", "type": "quantitative", "scale": {"domain": [0, 0.3], "nice": false},
          "axis": {"title": "Fluorescence", "values": [0, 0.05, 0.1, 0.15, 0.2, 0.25, 0.3], "format": ".2f", "labelFontSize": 21, "labelPadding": 4, "titleFontSize": 24, "titleX": -79, "titleY": 158}}
      },
      "layer": [
        {"mark": {"type": "line", "stroke": "black", "strokeWidth": 1.3}, "encoding": {"detail": {"field": "s", "type": "nominal"}}},
        {"mark": {"type": "point", "filled": true, "size": 40, "strokeWidth": 1.2, "opacity": 1},
         "encoding": {
           "x": {"field": "c", "type": "quantitative", "scale": {"domain": [18, 45], "nice": false, "zero": false},
             "axis": {"orient": "top", "title": "D", "labels": false, "ticks": false, "domain": false, "titleX": 11, "titleY": 37, "titleAlign": "left", "titleAngle": 0, "titleBaseline": "alphabetic", "titleFontSize": 37, "titleFontWeight": "bold"}},
           "shape": {"field": "s", "type": "nominal", "scale": {"domain": ["macrophage", "liver", "placenta", "small intestine", "lung", "stomach", "heart", "pancreas"], "range": ["diamond", "circle", "triangle-down", "triangle-down", "circle", "square", "diamond", "square"]},
             "legend": {"orient": "none", "legendX": 26.85, "legendY": 60.15, "title": null, "labelFontSize": 16.3, "labelOffset": 19.85, "rowPadding": 1.5}},
           "fill": {"field": "s", "type": "nominal", "scale": {"domain": ["macrophage", "liver", "placenta", "small intestine", "lung", "stomach", "heart", "pancreas"], "range": ["white", "white", "black", "white", "black", "black", "black", "white"]},
             "legend": {"orient": "none", "legendX": 26.85, "legendY": 60.15, "title": null, "labelFontSize": 16.3, "labelOffset": 19.85, "rowPadding": 1.5}},
           "stroke": {"field": "s", "type": "nominal", "scale": {"domain": ["macrophage", "liver", "placenta", "small intestine", "lung", "stomach", "heart", "pancreas"], "range": ["black", "black", "black", "black", "black", "black", "black", "black"]},
             "legend": {"orient": "none", "legendX": 26.85, "legendY": 60.15, "title": null, "labelFontSize": 16.3, "labelOffset": 19.85, "rowPadding": 1.5}}
         }}
      ]
     }
   ],
   "spacing": 0, "bounds": "flush",
   "resolve": {"scale": {"shape": "independent", "fill": "independent", "stroke": "independent"}, "legend": {"shape": "independent", "fill": "independent", "stroke": "independent"}}
  }
 ],
 "spacing": 681, "bounds": "flush",
 "resolve": {"scale": {"shape": "independent", "fill": "independent", "stroke": "independent"}, "legend": {"shape": "independent", "fill": "independent", "stroke": "independent"}}
}
]
}
